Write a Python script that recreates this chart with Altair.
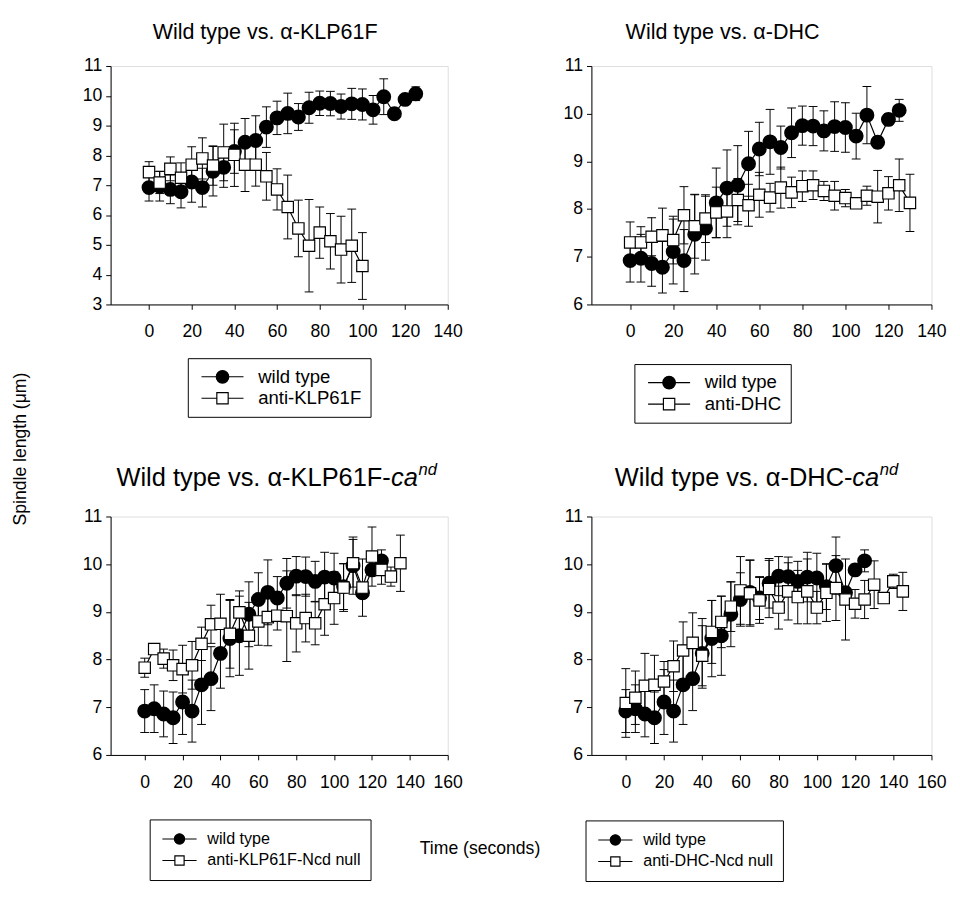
import altair as alt
import pandas as pd

FONT = "Liberation Sans"

# ---------------- data ----------------
wt_time = [0, 5, 10, 15, 20, 25, 30, 35, 40, 45, 50, 55, 60, 65, 70, 75, 80, 85, 90, 95, 100, 105, 110, 115, 120, 125]
wt_len = [6.92, 6.97, 6.86, 6.78, 7.11, 6.92, 7.47, 7.60, 8.13, 8.44, 8.50, 8.95, 9.26, 9.41, 9.29, 9.60, 9.75, 9.74, 9.64, 9.73, 9.71, 9.53, 9.97, 9.40, 9.88, 10.07]
wt_sd = [0.45, 0.50, 0.48, 0.54, 0.68, 0.65, 0.83, 0.67, 0.73, 0.80, 0.83, 0.68, 0.56, 0.68, 0.45, 0.52, 0.41, 0.41, 0.42, 0.52, 0.52, 0.48, 0.60, 0.12, 0.12, 0.23]

klp_time = [0, 5, 10, 15, 20, 25, 30, 35, 40, 45, 50, 55, 60, 65, 70, 75, 80, 85, 90, 95, 100]
klp_len = [7.44, 7.09, 7.55, 7.25, 7.69, 7.90, 7.66, 8.10, 8.02, 7.69, 7.69, 7.30, 6.86, 6.27, 5.55, 4.97, 5.41, 5.12, 4.84, 4.97, 4.29]
klp_sd = [0.35, 0.37, 0.40, 0.50, 0.60, 0.69, 0.66, 0.95, 1.06, 0.90, 0.72, 0.80, 0.69, 1.07, 0.95, 1.55, 0.86, 0.93, 1.12, 1.23, 1.12]

dhc_time = [0, 5, 10, 15, 20, 25, 30, 35, 40, 45, 50, 55, 60, 65, 70, 75, 80, 85, 90, 95, 100, 105, 110, 115, 120, 125, 130]
dhc_len = [7.30, 7.30, 7.42, 7.45, 7.35, 7.87, 7.64, 7.80, 7.93, 7.95, 8.19, 8.08, 8.30, 8.24, 8.45, 8.35, 8.48, 8.50, 8.38, 8.28, 8.23, 8.12, 8.28, 8.26, 8.33, 8.50, 8.13]
dhc_sd = [0.43, 0.33, 0.40, 0.57, 0.50, 0.60, 0.67, 0.50, 0.53, 0.55, 0.45, 0.44, 0.47, 0.30, 0.43, 0.32, 0.32, 0.30, 0.20, 0.30, 0.18, 0.10, 0.20, 0.55, 0.35, 0.55, 0.60]

klpn_time = [0, 5, 10, 15, 20, 25, 30, 35, 40, 45, 50, 55, 60, 65, 70, 75, 80, 85, 90, 95, 100, 105, 110, 115, 120, 125, 130, 135]
klpn_len = [7.83, 8.22, 8.02, 7.88, 7.80, 7.88, 8.33, 8.74, 8.75, 8.54, 8.99, 8.50, 8.80, 8.89, 8.92, 8.91, 8.76, 8.87, 8.76, 9.16, 9.29, 9.51, 10.02, 9.51, 10.16, 9.88, 9.74, 10.02]
klpn_sd = [0.20, 0.10, 0.20, 0.32, 0.50, 0.50, 0.35, 0.40, 0.62, 0.72, 0.45, 0.70, 0.50, 0.60, 0.30, 0.95, 0.60, 0.50, 0.45, 0.65, 0.55, 0.50, 0.50, 0.60, 0.62, 0.30, 0.20, 0.59]

dhcn_time = [0, 5, 10, 15, 20, 25, 30, 35, 40, 45, 50, 55, 60, 65, 70, 75, 80, 85, 90, 95, 100, 105, 110, 115, 120, 125, 130, 135, 140, 145]
dhcn_len = [7.09, 7.20, 7.45, 7.47, 7.54, 7.86, 8.19, 8.35, 8.08, 8.58, 8.79, 9.11, 9.45, 9.39, 9.24, 9.48, 9.09, 9.43, 9.31, 9.43, 9.09, 9.40, 9.50, 9.26, 9.17, 9.26, 9.57, 9.29, 9.64, 9.43]
dhcn_sd = [0.72, 0.56, 0.68, 0.62, 0.42, 0.53, 0.60, 0.63, 0.63, 0.66, 0.54, 0.52, 0.71, 0.69, 0.48, 0.60, 0.45, 0.60, 0.56, 0.68, 0.34, 0.60, 0.68, 0.85, 0.30, 0.40, 0.50, 0.10, 0.15, 0.40]

x_ticks_top = [0, 20, 40, 60, 80, 100, 120, 140]
x_ticks_bottom = [0, 20, 40, 60, 80, 100, 120, 140, 160]
y_ticks_klp = [3, 4, 5, 6, 7, 8, 9, 10, 11]
y_ticks_other = [6, 7, 8, 9, 10, 11]

# legend glyphs: line + marker (path units -1..1)
CIRCLE_PATH = "M-1,0H-0.3M0.3,0H1M-0.3,0A0.3,0.3 0 1,0 0.3,0A0.3,0.3 0 1,0 -0.3,0Z"
SQUARE_PATH = "M-1,0H-0.27M0.27,0H1M-0.27,-0.27H0.27V0.27H-0.27Z"

LEGEND_TOP = dict(symbolSize=1849, labelFontSize=19, padding=9, symbolOffset=4, labelOffset=14)
LEGEND_BOTTOM = dict(symbolSize=1225, labelFontSize=16.5, padding=10, symbolOffset=2, labelOffset=10)


def make_df(t, y, e, name):
    return pd.DataFrame({
        "time": t,
        "length": y,
        "lo": [a - b for a, b in zip(y, e)],
        "hi": [a + b for a, b in zip(y, e)],
        "series": name,
    })


def text_layer(txt, x, y, size, angle=0, style="normal", align="left", baseline="alphabetic"):
    return alt.Chart(alt.Data(values=[{}])).mark_text(
        font=FONT, fontSize=size, fontStyle=style, color="black",
        align=align, baseline=baseline, angle=angle,
    ).encode(x=alt.value(x), y=alt.value(y), text=alt.value(txt))


def panel(other, label, xmax, xticks, ymin, yticks, w, h, leg_x, leg_y, leg_style, leg_pad, texts):
    t, y, e = other
    df = pd.concat([make_df(wt_time, wt_len, wt_sd, "wild type"),
                    make_df(t, y, e, label)], ignore_index=True)
    xs = alt.Scale(domain=[-18, xmax], nice=False, zero=False)
    ys = alt.Scale(domain=[ymin, 11], nice=False, zero=False)
    xax = alt.Axis(values=xticks, title=None, grid=False, tickSize=5, labelPadding=14,
                   labelFontSize=18, labelFont=FONT, labelColor="black", domainColor="black",
                   tickColor="black", labelFlush=False, labelOverlap=False)
    yax = alt.Axis(values=yticks, title=None, grid=False, tickSize=5, labelPadding=4,
                   labelFontSize=18, labelFont=FONT, labelColor="black", domainColor="black",
                   tickColor="black", labelOverlap=False)

    def X(f):
        return alt.X(f + ":Q", scale=xs, axis=xax)

    def Y(f):
        return alt.Y(f + ":Q", scale=ys, axis=yax)

    layers = []
    for name, filled in [("wild type", True), (label, False)]:
        base = alt.Chart(df).transform_filter(alt.datum.series == name)
        layers.append(base.mark_rule(color="black", strokeWidth=1).encode(
            x=X("time"), y=Y("lo"), y2="hi:Q"))
        for f in ["lo", "hi"]:
            layers.append(base.mark_tick(orient="horizontal", size=9, thickness=1,
                                         color="black", opacity=1).encode(x=X("time"), y=Y(f)))
        layers.append(base.mark_line(color="black", strokeWidth=1.2).encode(
            x=X("time"), y=Y("length")))
        if filled:
            layers.append(base.mark_point(shape="circle", filled=True, fill="black",
                                          stroke="black", size=175, opacity=1).encode(
                x=X("time"), y=Y("length")))
        else:
            layers.append(base.mark_point(shape="square", filled=True, fill="white",
                                          stroke="black", strokeWidth=1.2, size=135,
                                          opacity=1).encode(x=X("time"), y=Y("length")))

    pad_expr = "datum.label + '" + ("\u00a0" * leg_pad) + "'"
    leg = alt.Legend(title=None, orient="none", legendX=leg_x, legendY=leg_y,
                     symbolStrokeWidth=1.2, symbolOpacity=1, labelFont=FONT,
                     labelColor="black", strokeColor="black", fillColor="white",
                     rowPadding=2, clipHeight=20, labelLimit=400, cornerRadius=0,
                     labelExpr=pad_expr, **leg_style)
    dom = ["wild type", label]
    layers.append(alt.Chart(df).mark_point(filled=False, color="black", stroke="black",
                                           strokeWidth=1.2, opacity=0).encode(
        x=X("time"), y=Y("length"),
        shape=alt.Shape("series:N", scale=alt.Scale(domain=dom, range=[CIRCLE_PATH, SQUARE_PATH]),
                        legend=leg),
        fill=alt.Fill("series:N", scale=alt.Scale(domain=dom, range=["black", "white"]),
                      legend=leg),
    ))
    layers.extend(texts)
    return alt.layer(*layers).resolve_scale(shape="shared", fill="shared").properties(
        width=w, height=h)


tl = panel((klp_time, klp_len, klp_sd), "anti-KLP61F", 140, x_ticks_top, 3, y_ticks_klp,
           345, 244, 79, 299, LEGEND_TOP, 1,
           [text_layer("Wild type vs. \u03b1-KLP61F", 43, -28, 22),
            text_layer("Spindle length (\u03bcm)", -92, 392, 18, angle=270,
                       align="center", baseline="middle")])

tr = panel((dhc_time, dhc_len, dhc_sd), "anti-DHC", 140, x_ticks_top, 6, y_ticks_other,
           348, 244, 44, 305, LEGEND_TOP, 6,
           [text_layer("Wild type vs. \u03b1-DHC", 35, -28, 22)])

bl = panel((klpn_time, klpn_len, klpn_sd), "anti-KLP61F-Ncd null", 160, x_ticks_bottom, 6,
           y_ticks_other, 345, 244, 40, 310, LEGEND_BOTTOM, 0,
           [text_layer("Wild type vs. \u03b1-KLP61F-", 6, -31, 26),
            text_layer("ca", 287, -31, 26, style="italic"),
            text_layer("nd", 315, -42, 17, style="italic"),
            text_layer("Time (seconds)", 378, 340, 18, align="center", baseline="middle")])

br = panel((dhcn_time, dhcn_len, dhcn_sd), "anti-DHC-Ncd null", 160, x_ticks_bottom, 6,
           y_ticks_other, 348, 244, -6, 311, LEGEND_BOTTOM, 0,
           [text_layer("Wild type vs. \u03b1-DHC-", 24, -31, 26),
            text_layer("ca", 267, -31, 26, style="italic"),
            text_layer("nd", 295, -42, 17, style="italic")])

chart = alt.concat(tl, tr, bl, br, columns=2, spacing={"row": 217, "column": 147},
                   bounds="flush").resolve_scale(
    shape="independent", fill="independent", x="independent", y="independent"
).properties(
    padding={"left": 3, "top": 2, "right": 5, "bottom": 5}
).configure_view(stroke="black", strokeWidth=1.2).configure(background="white")

chart.save("out.html", embed_options={"renderer": "svg", "actions": False})
